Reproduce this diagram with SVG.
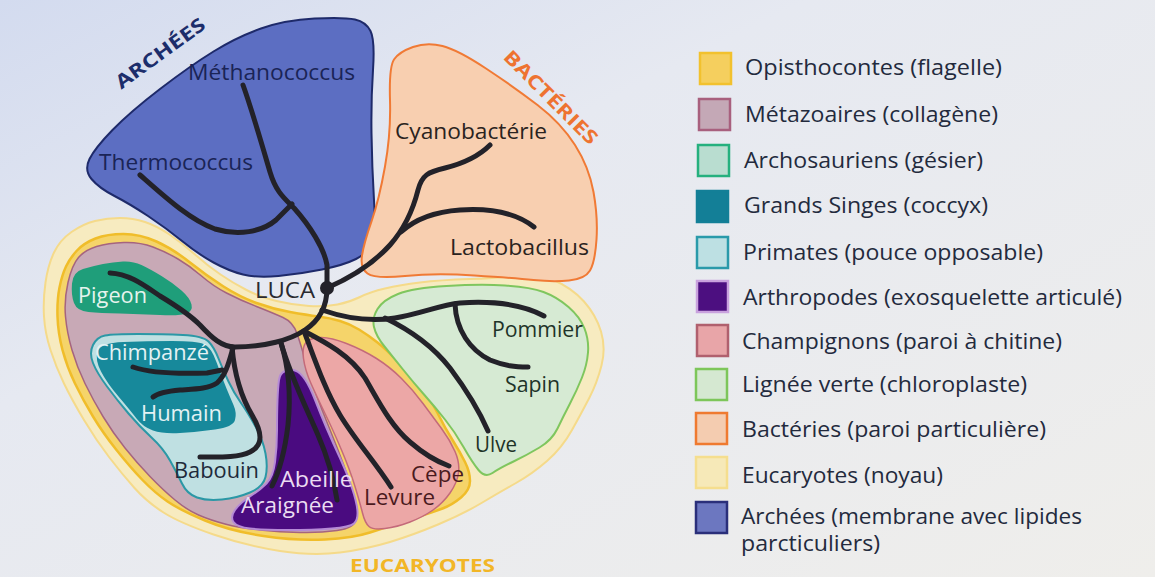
<svg xmlns="http://www.w3.org/2000/svg" width="1155" height="577" viewBox="0 0 1155 577">
<defs>
<linearGradient id="bg" x1="0" y1="0" x2="1" y2="1">
<stop offset="0" stop-color="#d3dbef"/>
<stop offset="0.35" stop-color="#e6e9f1"/>
<stop offset="1" stop-color="#efeeeb"/>
</linearGradient>
<style>
.lbl{font-family:"Open Sans","Noto Sans","DejaVu Sans",sans-serif;font-size:21px}
.big{font-family:"Open Sans","Noto Sans","DejaVu Sans",sans-serif;font-weight:bold}
.leg{font-family:"Open Sans","Noto Sans","DejaVu Sans",sans-serif;font-size:21px;fill:#232a3d}
.br{fill:none;stroke:#232229;stroke-width:5;stroke-linecap:round;stroke-linejoin:round}
.sq{stroke-width:2.5}
</style>
</defs>
<rect x="0" y="0" width="1155" height="577" fill="url(#bg)"/>

<g id="eucaryotes">
<path d="M54,252.5 Q60,240 71.5,232 Q83,224 95,221 Q107,218 120,218 Q133,218 145,222 Q157,226 169.5,234.5 Q182,243 195,254.5 Q208,266 220.5,274.5 Q233,283 246.5,290 Q260,297 276.5,301 Q293,305 309,306 Q325,307 337.5,304.5 Q350,302 360,297 Q370,292 385,288.5 Q400,285 420,282.5 Q440,280 470,279 Q500,278 517.5,275 Q535,272 553.5,280 Q572,288 584,301.5 Q596,315 601,331.5 Q606,348 601.5,365.5 Q597,383 589.5,397.5 Q582,412 572,430 Q562,448 547,461 Q532,474 516,483 Q500,492 481.5,503 Q463,514 438,524.5 Q413,535 390,542 Q367,549 340,552.5 Q313,556 280,551 Q247,546 213.5,534.5 Q180,523 163.5,512.5 Q147,502 134.5,488 Q122,474 109,457 Q96,440 84,420 Q72,400 64,383.5 Q56,367 50.5,350 Q45,333 44,316.5 Q43,300 45.5,282.5 Q48,265 54,252.5 Z" fill="#f7ebc0" stroke="#f5da8a" stroke-width="2"/>
<text class="big" x="350" y="572" font-size="18" fill="#f2b627" textLength="145" lengthAdjust="spacingAndGlyphs">EUCARYOTES</text>
</g>

<g id="opisthocontes">
<path d="M66,266.5 Q70,258 77,250.5 Q84,243 95.5,238.5 Q107,234 123.5,234 Q140,234 156.5,241.5 Q173,249 190,262.5 Q207,276 223.5,286.5 Q240,297 256.5,303 Q273,309 290,312 Q307,315 318.5,316.5 Q330,318 340,321 Q350,324 359,329.5 Q368,335 377.5,342.5 Q387,350 397.5,361.5 Q408,373 419,385.5 Q430,398 437.5,413 Q445,428 452.5,440 Q460,452 465,462 Q470,472 470,481 Q470,490 461,497.5 Q452,505 442.5,508.5 Q433,512 410,519.5 Q387,527 370,532.5 Q353,538 325,539.5 Q297,541 263.5,536 Q230,531 205,520.5 Q180,510 167.5,501.5 Q155,493 142.5,480 Q130,467 116.5,450 Q103,433 93,416.5 Q83,400 75,383.5 Q67,367 62.5,350 Q58,333 57.5,316.5 Q57,300 59.5,287.5 Q62,275 66,266.5 Z" fill="#f5d46a" stroke="#f0bd2a" stroke-width="2.5"/>
</g>

<g id="lignee-verte">
<path d="M374,327 Q372,318 377.5,309 Q383,300 398,294 Q413,288 446.5,286 Q480,284 505,285.5 Q530,287 543.5,292 Q557,297 568.5,307 Q580,317 584.5,328.5 Q589,340 588,352.5 Q587,365 582,377.5 Q577,390 570,403.5 Q563,417 557.5,428.5 Q552,440 539.5,447.5 Q527,455 513.5,461.5 Q500,468 492.5,473 Q485,478 478.5,470 Q472,462 463.5,447 Q455,432 445,419.5 Q435,407 424,394.5 Q413,382 403,369.5 Q393,357 384.5,346.5 Q376,336 374,327 Z" fill="#d6ead3" stroke="#7fc65e" stroke-width="2"/>
<text class="lbl" x="492" y="337" fill="#1e3328" textLength="91" lengthAdjust="spacingAndGlyphs">Pommier</text>
<text class="lbl" x="505" y="392" fill="#1e3328" textLength="55" lengthAdjust="spacingAndGlyphs">Sapin</text>
<text class="lbl" x="475" y="452" fill="#1e3328" textLength="42" lengthAdjust="spacingAndGlyphs">Ulve</text>
</g>

<g id="metazoaires">
<path d="M68,282.5 Q72,265 78.5,257.5 Q85,250 96.5,246.5 Q108,243 124,242.5 Q140,242 153,247 Q166,252 178,259 Q190,266 201.5,276 Q213,286 226.5,293 Q240,300 256.5,306.5 Q273,313 283,317.5 Q293,322 297,333.5 Q301,345 305.5,361.5 Q310,378 316,394 Q322,410 329.5,428.5 Q337,447 343.5,464.5 Q350,482 354,497 Q358,512 356,520 Q354,528 337,530.5 Q320,533 300,532.5 Q280,532 260,530 Q240,528 225,524 Q210,520 198.5,515 Q187,510 175,500 Q163,490 150,476.5 Q137,463 125,448 Q113,433 103,416.5 Q93,400 85,383.5 Q77,367 72,350 Q67,333 65.5,316.5 Q64,300 68,282.5 Z" fill="#c8a9b6" stroke="#a5647f" stroke-width="1.5"/>
</g>

<g id="archosauriens">
<path d="M72,283.5 Q73,272 83,269 Q93,266 103,264 Q113,262 123,261.5 Q133,261 141.5,265 Q150,269 161.5,276 Q173,283 181.5,290.5 Q190,298 191.5,304.5 Q193,311 186.5,313.5 Q180,316 160,315 Q140,314 120,313.5 Q100,313 88.5,312 Q77,311 74,303 Q71,295 72,283.5 Z" fill="#1f9e7a"/>
<text class="lbl" x="78" y="303" fill="#e6f4ee" textLength="69" lengthAdjust="spacingAndGlyphs">Pigeon</text>
</g>

<g id="primates">
<path d="M93,345 Q97,337 105,335.5 Q113,334 138,334 Q163,334 183,335 Q203,336 208.5,341.5 Q214,347 218.5,358.5 Q223,370 228.5,381.5 Q234,393 241,403 Q248,413 255.5,426.5 Q263,440 265.5,453.5 Q268,467 265.5,477 Q263,487 250,492.5 Q237,498 222,499.5 Q207,501 197,497.5 Q187,494 182,483.5 Q177,473 170,460.5 Q163,448 151.5,437.5 Q140,427 128.5,413.5 Q117,400 107,386.5 Q97,373 93,363 Q89,353 93,345 Z" fill="#bfe0e2" stroke="#2b98a6" stroke-width="2"/>
<text class="lbl" x="174" y="478" fill="#1e2a3a" textLength="85" lengthAdjust="spacingAndGlyphs">Babouin</text>
</g>

<g id="grands-singes">
<path d="M97.5,351.5 Q100,343 123.5,342 Q147,341 172,341 Q197,341 203.5,344 Q210,347 213.5,355 Q217,363 220,371.5 Q223,380 226.5,388.5 Q230,397 233.5,405 Q237,413 235,420 Q233,427 215,429.5 Q197,432 180,433 Q163,434 153,430.5 Q143,427 136.5,418.5 Q130,410 118.5,396.5 Q107,383 101,371.5 Q95,360 97.5,351.5 Z" fill="#17899b"/>
<text class="lbl" x="95" y="360" fill="#e4f2f4" textLength="114" lengthAdjust="spacingAndGlyphs">Chimpanzé</text>
<text class="lbl" x="141" y="421" fill="#e4f2f4" textLength="81" lengthAdjust="spacingAndGlyphs">Humain</text>
</g>

<g id="arthropodes">
<path d="M279,380 Q280,373 285,371 Q290,369 295,370.5 Q300,372 305,379.5 Q310,387 315,400 Q320,413 326.5,428 Q333,443 340,458 Q347,473 352,488 Q357,503 357.5,511.5 Q358,520 354,523.5 Q350,527 331.5,528.5 Q313,530 288,530 Q263,530 250,528.5 Q237,527 233.5,522 Q230,517 235,510 Q240,503 250,496.5 Q260,490 266.5,483.5 Q273,477 275,462 Q277,447 277,430 Q277,413 277.5,400 Q278,387 279,380 Z" fill="#4a0b80" stroke="#b58ad6" stroke-width="2"/>
</g>

<g id="champignons">
<path d="M303.5,358.5 Q302,347 306,342.5 Q310,338 320,337.5 Q330,337 346.5,343.5 Q363,350 376.5,358.5 Q390,367 401.5,378.5 Q413,390 423,403.5 Q433,417 441.5,428.5 Q450,440 455,451.5 Q460,463 458.5,473 Q457,483 450,493 Q443,503 433,510 Q423,517 410,522 Q397,527 385,528.5 Q373,530 369,526.5 Q365,523 362.5,513 Q360,503 355,486.5 Q350,470 341.5,450 Q333,430 325,413.5 Q317,397 311,383.5 Q305,370 303.5,358.5 Z" fill="#eca7a6" stroke="#c46a7a" stroke-width="1.5"/>
</g>

<g id="archees">
<path d="M213.5,51.5 Q237,37 261,28.5 Q285,20 314.5,18.5 Q344,17 355,19.5 Q366,22 370.5,31 Q375,40 373,70 Q371,100 371.5,133.5 Q372,167 374,200 Q376,233 372,243 Q368,253 356,259 Q344,265 322,269.5 Q300,274 278.5,276 Q257,278 243,274.5 Q229,271 213.5,262.5 Q198,254 182,241 Q166,228 148,216 Q130,204 114.5,196 Q99,188 91.5,179 Q84,170 89.5,159 Q95,148 112.5,130 Q130,112 160,89 Q190,66 213.5,51.5 Z" fill="#5c6ec2" stroke="#1e2a6a" stroke-width="2"/>
<text class="big" x="160" y="60" font-size="19" fill="#1c2d6b" text-anchor="middle" textLength="106" lengthAdjust="spacingAndGlyphs" transform="rotate(-36 160 53)">ARCHÉES</text>
<text class="lbl" x="188" y="80" fill="#1a2456" textLength="167" lengthAdjust="spacingAndGlyphs">Méthanococcus</text>
<text class="lbl" x="99" y="170" fill="#1a2456" textLength="154" lengthAdjust="spacingAndGlyphs">Thermococcus</text>
</g>

<g id="bacteries">
<path d="M394,59.5 Q399,52 413,47 Q427,42 442.5,46 Q458,50 486,68.5 Q514,87 537.5,105 Q561,123 575,145 Q589,167 593.5,192 Q598,217 596.5,239.5 Q595,262 590,270.5 Q585,279 569,280.5 Q553,282 533.5,280 Q514,278 474.5,275.5 Q435,273 405,276 Q375,279 367.5,273.5 Q360,268 362,255.5 Q364,243 371.5,221.5 Q379,200 385,166.5 Q391,133 390,100 Q389,67 394,59.5 Z" fill="#f8cfb0" stroke="#f07a35" stroke-width="2"/>
<text class="big" x="551" y="104" font-size="19" fill="#ee7330" text-anchor="middle" textLength="124" lengthAdjust="spacingAndGlyphs" transform="rotate(45 551 97)">BACTÉRIES</text>
<text class="lbl" x="395" y="139" fill="#2a2320" textLength="152" lengthAdjust="spacingAndGlyphs">Cyanobactérie</text>
<text class="lbl" x="450" y="255" fill="#2a2320" textLength="139" lengthAdjust="spacingAndGlyphs">Lactobacillus</text>
</g>

<g id="connectors">
<path class="br" d="M243,85 C252,110 262,145 270,172 C276,192 284,198 294,208 C310,226 324,248 327,265 L327,288"/>
<path class="br" d="M140,175 C165,197 190,220 215,229 C238,236 262,232 276,220 L292,204"/>
<path class="br" d="M327,288 C350,278 372,265 390,245 C405,228 413,210 418,190 C422,175 428,172 445,168 C465,163 480,155 490,145"/>
<path class="br" d="M401,232 C412,222 430,212 460,210 C490,208 515,212 534,227"/>
<path class="br" d="M327,288 C327,305 320,320 305,330 C290,340 265,347 235,347 C222,347 212,338 200,325 C188,313 175,305 160,296 C145,286 130,274 110,273"/>
<path class="br" d="M133,367 C150,373 180,374 207,373 L222,370"/>
<path class="br" d="M233,348 C229,362 226,375 217,383 C208,389 195,389 180,390 C168,391 158,393 153,397"/>
<path class="br" d="M232,347 C234,370 240,395 252,415 C262,432 264,445 250,452 C238,458 218,457 200,457"/>
<path class="br" d="M281,343 C288,365 291,395 288,425 C285,450 280,470 272,486"/>
<path class="br" d="M281,343 C290,375 305,405 318,435 C328,458 334,480 337,500"/>
<path class="br" d="M304,331 C315,360 325,390 340,415 C355,440 375,462 391,487"/>
<path class="br" d="M304,331 C325,342 350,355 365,378 C378,400 390,425 410,442 C425,455 438,462 449,466"/>
<path class="br" d="M322,310 C345,318 370,322 395,318 C420,314 440,305 460,303 C490,301 520,303 544,316"/>
<path class="br" d="M455,304 C456,330 470,350 490,360 C505,366 515,367 528,367"/>
<path class="br" d="M385,318 C410,330 432,345 450,368 C465,388 478,408 488,431"/>
<circle cx="327" cy="288" r="7" fill="#232229"/>
</g>

<g id="labels">
<text class="lbl" x="255" y="298" fill="#2a2a30" textLength="60" lengthAdjust="spacingAndGlyphs">LUCA</text>
<text class="lbl" x="280" y="487" fill="#eadcf2" textLength="73" lengthAdjust="spacingAndGlyphs">Abeille</text>
<text class="lbl" x="241" y="513" fill="#eadcf2" textLength="93" lengthAdjust="spacingAndGlyphs">Araignée</text>
<text class="lbl" x="364" y="505" fill="#4a1a1e" textLength="71" lengthAdjust="spacingAndGlyphs">Levure</text>
<text class="lbl" x="411" y="482" fill="#4a1a1e" textLength="53" lengthAdjust="spacingAndGlyphs">Cèpe</text>
</g>

<g id="legend">
<rect class="sq" x="700" y="53" width="31" height="31" fill="#f5cf5e" stroke="#f2c12e"/>
<text class="leg" x="745" y="75" textLength="257" lengthAdjust="spacingAndGlyphs">Opisthocontes (flagelle)</text>
<rect class="sq" x="699" y="99" width="31" height="31" fill="#c4a8b6" stroke="#a8607e"/>
<text class="leg" x="745" y="122" textLength="253" lengthAdjust="spacingAndGlyphs">Métazoaires (collagène)</text>
<rect class="sq" x="698" y="145" width="31" height="31" fill="#b9ddd0" stroke="#25b07e"/>
<text class="leg" x="744" y="168" textLength="239" lengthAdjust="spacingAndGlyphs">Archosauriens (gésier)</text>
<rect class="sq" x="697" y="191" width="31" height="31" fill="#137f97" stroke="#137f97"/>
<text class="leg" x="744" y="213" textLength="244" lengthAdjust="spacingAndGlyphs">Grands Singes (coccyx)</text>
<rect class="sq" x="697" y="237" width="31" height="31" fill="#bde0e3" stroke="#2a9aaa"/>
<text class="leg" x="743" y="260" textLength="300" lengthAdjust="spacingAndGlyphs">Primates (pouce opposable)</text>
<rect class="sq" x="697" y="281" width="31" height="31" fill="#4c0f80" stroke="#c9a2de"/>
<text class="leg" x="743" y="305" textLength="379" lengthAdjust="spacingAndGlyphs">Arthropodes (exosquelette articulé)</text>
<rect class="sq" x="697" y="325" width="31" height="31" fill="#e8a5a8" stroke="#b0606e"/>
<text class="leg" x="742" y="349" textLength="320" lengthAdjust="spacingAndGlyphs">Champignons (paroi à chitine)</text>
<rect class="sq" x="696" y="369" width="31" height="31" fill="#d5e8d1" stroke="#7dc65a"/>
<text class="leg" x="742" y="392" textLength="285" lengthAdjust="spacingAndGlyphs">Lignée verte (chloroplaste)</text>
<rect class="sq" x="696" y="413" width="31" height="31" fill="#f4ccb0" stroke="#ef7a30"/>
<text class="leg" x="742" y="437" textLength="304" lengthAdjust="spacingAndGlyphs">Bactéries (paroi particulière)</text>
<rect class="sq" x="696" y="457" width="31" height="31" fill="#f6e9b8" stroke="#f5de8e"/>
<text class="leg" x="742" y="483" textLength="201" lengthAdjust="spacingAndGlyphs">Eucaryotes (noyau)</text>
<rect class="sq" x="696" y="502" width="31" height="31" fill="#6c77c0" stroke="#2a2f7a"/>
<text class="leg" x="741" y="524" textLength="341" lengthAdjust="spacingAndGlyphs">Archées (membrane avec lipides</text>
<text class="leg" x="741" y="551" textLength="139" lengthAdjust="spacingAndGlyphs">parcticuliers)</text>
</g>
</svg>
